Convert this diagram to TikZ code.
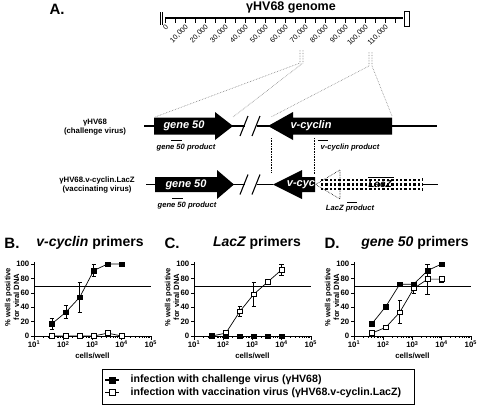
\documentclass[tikz,border=0pt]{standalone}
\usepackage{fontspec}
\setmainfont{Liberation Sans}
\begin{document}
\begin{tikzpicture}[x=1pt,y=-1pt,
  fs/.style={font=\fontsize{#1}{#1}\selectfont},
  bfs/.style={font=\bfseries\fontsize{#1}{#1}\selectfont},
  gtext/.style={font=\bfseries\itshape\fontsize{11}{11}\selectfont, text=white},
  prod/.style={font=\bfseries\itshape\fontsize{7.6}{7.6}\selectfont},
  rowlab/.style={font=\bfseries\fontsize{7.8}{8.8}\selectfont, align=center},
  backbone/.style={line width=1.3pt},
  genline/.style={densely dotted, gray, line width=0.6pt},
  vline/.style={densely dotted, black, line width=0.6pt},
  fsq/.style={draw=black, fill=black, minimum size=4.6pt, inner sep=0pt},
  osq/.style={draw=black, fill=white, minimum size=4.6pt, inner sep=0pt, line width=0.7pt},
  ticklab/.style={font=\bfseries\fontsize{7.8}{7.8}\selectfont},
  dataline/.style={line width=0.7pt},
]
\useasboundingbox (0,0) rectangle (488,405);

% ---------- A: genome ----------
\node[bfs=15] (Alab) at (57,9) {A.};
\node[bfs=12.5] (gtitle) at (291,7) {γHV68 genome};
\draw[line width=2.4pt] (165,18) -- (403,18);
\foreach \i in {0,...,23} \draw[line width=0.5pt] (165+\i*10,18) -- (165+\i*10,23);
\foreach \i/\t in {0/0,1/{10,000},2/{20,000},3/{30,000},4/{40,000},5/{50,000},6/{60,000},7/{70,000},8/{80,000},9/{90,000},10/{100,000},11/{110,000}}
  \node[fs=7.2, rotate=45, anchor=east, inner sep=0.5pt] (tl\i) at (165+\i*20+2.5,25.5) {\t};
\draw[line width=0.5pt] (160,12) -- (160,25) (162.3,12) -- (162.3,25);
\draw[line width=0.6pt] (404,11) rectangle (409,26);

% dotted projection lines
\coordinate (p1a) at (300,50); \coordinate (p1b) at (303,50);
\coordinate (p1c) at (300,63); \coordinate (p1d) at (303,63);
\coordinate (p2a) at (369,52); \coordinate (p2b) at (372,52);
\coordinate (p2c) at (369,66); \coordinate (p2d) at (372,66);
\coordinate (g50l) at (155,117); \coordinate (g50r) at (233,117);
\coordinate (vcl) at (271,117); \coordinate (vcr) at (392,116);
\draw[genline] (p1a) -- (p1c) -- (g50l);
\draw[genline] (p1b) -- (p1d) -- (g50r);
\draw[genline] (p2a) -- (p2c) -- (vcl);
\draw[genline] (p2b) -- (p2d) -- (vcr);

% ---------- row 1 ----------
\node[rowlab] (r1lab) at (95,127) {γHV68\\(challenge virus)};
\draw[backbone] (144,126) -- (245,126) (257,126) -- (437,126);
\draw[line width=1.1pt] (240,136) -- (248,116) (252,136) -- (260,116);
\fill (154,117.5) -- (215,117.5) -- (215,112) -- (233,126) -- (215,140) -- (215,134.5) -- (154,134.5) -- cycle;
\fill (392,117.5) -- (293,117.5) -- (293,112) -- (268,126) -- (293,140) -- (293,134.5) -- (392,134.5) -- cycle;
\node[gtext] (g50a) at (184,126) {gene 50};
\node[gtext] (vca) at (311,126) {v-cyclin};
\draw[line width=0.9pt] (171,140) -- (182,140);
\node[prod] (g50pa) at (186,148) {gene 50 product};
\draw[line width=0.9pt] (318,140) -- (328,140);
\node[prod] (vcpa) at (350,148) {v-cyclin product};

\coordinate (d1t) at (271,138); \coordinate (d1b) at (271,173);
\coordinate (d2t) at (314,138); \coordinate (d2b) at (314,174);
\draw[vline] (d1t) -- (d1b);
\draw[vline] (d2t) -- (d2b);

% ---------- row 2 ----------
\node[rowlab] (r2lab) at (97,185) {γHV68.v-cyclin.LacZ\\(vaccinating virus)};
\draw[backbone] (146,184.5) -- (245,184.5) (257,184.5) -- (273,184.5) (422,184.5) -- (438,184.5);
\draw[line width=1.1pt] (240,194.5) -- (248,174.5) (252,194.5) -- (260,174.5);
\fill (155,177) -- (217,177) -- (217,170) -- (234,184.5) -- (217,199) -- (217,192) -- (155,192) -- cycle;
\fill (315,177) -- (302,177) -- (302,170) -- (273,184.5) -- (302,199) -- (302,192) -- (315,192) -- cycle;
\node[gtext] (g50b) at (186,184.5) {gene 50};
\node[gtext, inner sep=0pt] (vcb) at (301,184.5) {v-cyc};
% LacZ dotted arrow
\draw[densely dotted, line width=0.6pt] (340,170) -- (315.5,184.5) -- (340,199) -- cycle;
\foreach \yy in {180.2,184.5,188.8}
  \foreach \xx in {322,326.4,...,419}
    \fill (\xx-1.2,\yy-1.2) rectangle (\xx+1.2,\yy+1.2);
\draw[densely dashed, line width=0.6pt] (422,178) -- (422,191);
\node[font=\bfseries\itshape\fontsize{10}{10}\selectfont, inner sep=0.5pt] (lacz) at (380,184.5) {LacZ};
\draw[line width=0.5pt] (368,177.5) -- (394,177.5);
\draw[line width=0.9pt] (172,198) -- (183,198);
\node[prod] (g50pb) at (187,206) {gene 50 product};
\draw[line width=0.9pt] (347,202) -- (357,202);
\node[prod] (lpb) at (350,209) {LacZ product};

% ---------- plots ----------
\foreach \xo/\lab/\ttl/\tx in {34/B./{{\itshape v-cyclin} primers}/90, 194/C./{{\itshape LacZ} primers}/257, 354/D./{{\itshape gene 50} primers}/415}{
  \node[bfs=15] at (\xo-22,243) {\lab};
  \node[bfs=14] at (\tx,243) {\ttl};
  % axes
  \draw[line width=0.7pt] (\xo,262) -- (\xo,336) -- (\xo+116.8,336);
  \draw[line width=0.6pt] (\xo,286.6) -- (\xo+116.8,286.6);
  \foreach \v in {0,20,...,100}{
    \draw[line width=0.6pt] (\xo,336-\v*0.72) -- (\xo-3,336-\v*0.72);
    \node[ticklab, anchor=east, inner sep=1pt] at (\xo-3.5,336-\v*0.72) {\v};
  }
  \foreach \d in {0,...,4}{
    \draw[line width=0.6pt] (\xo+\d*29.2,336) -- (\xo+\d*29.2,339.5);
    \pgfmathtruncatemacro{\ex}{\d+1}
    \node[ticklab, anchor=north, inner sep=1pt] at (\xo+\d*29.2,340) {10\textsuperscript{\ex}};
  }
  \foreach \d in {0,...,3}
    \foreach \m in {2,...,9}
      \draw[line width=0.4pt] ({\xo+(\d+log10(\m))*29.2},336) -- ({\xo+(\d+log10(\m))*29.2},338);
  \node[bfs=7.8] at (\xo+58.4,356) {cells/well};
  \node[font=\bfseries\fontsize{7.6}{8.6}\selectfont, rotate=90, align=center] at (\xo-22,297) {\% wells positive\\for viral DNA};
}

% data helpers: x = x0 + (log-1)*29.2 ; y = 336 - v*0.72
\newcommand{\dpt}[3]{({#1+(#2-1)*29.2},{336-#3*0.72})}
\newcommand{\ebar}[4]{%
  \draw[line width=0.6pt] ({#1+(#2-1)*29.2},{336-#3*0.72}) -- ({#1+(#2-1)*29.2},{336-#4*0.72});
  \draw[line width=0.6pt] ({#1+(#2-1)*29.2-2.2},{336-#3*0.72}) -- ({#1+(#2-1)*29.2+2.2},{336-#3*0.72});
  \draw[line width=0.6pt] ({#1+(#2-1)*29.2-2.2},{336-#4*0.72}) -- ({#1+(#2-1)*29.2+2.2},{336-#4*0.72});}

% Panel B
\ebar{34}{1.613}{9}{25}\ebar{34}{2.09}{25}{42}\ebar{34}{2.568}{33}{75}\ebar{34}{3.046}{83}{100}
\ebar{34}{3.523}{1}{7}
\draw[dataline] \dpt{34}{1.613}{0} -- \dpt{34}{2.09}{0} -- \dpt{34}{2.568}{0} -- \dpt{34}{3.046}{0} -- \dpt{34}{3.523}{4} -- \dpt{34}{4}{0};
\foreach \l/\v in {1.613/0,2.09/0,2.568/0,3.046/0,3.523/4,4/0} \node[osq] at \dpt{34}{\l}{\v} {};
\draw[dataline] \dpt{34}{1.613}{17} -- \dpt{34}{2.09}{33} -- \dpt{34}{2.568}{54} -- \dpt{34}{3.046}{91} -- \dpt{34}{3.523}{100} -- \dpt{34}{4}{100};
\foreach \l/\v in {1.613/17,2.09/33,2.568/54,3.046/91,3.523/100,4/100} \node[fsq] at \dpt{34}{\l}{\v} {};

% Panel C
\ebar{194}{2.568}{27}{41}\ebar{194}{3.046}{41}{75}\ebar{194}{4}{84}{100}
\draw[dataline] \dpt{194}{1.613}{0} -- \dpt{194}{2.09}{4} -- \dpt{194}{2.568}{34} -- \dpt{194}{3.046}{58} -- \dpt{194}{3.523}{75} -- \dpt{194}{4}{92};
\foreach \l/\v in {1.613/0,2.09/4,2.568/34,3.046/58,3.523/75,4/92} \node[osq] at \dpt{194}{\l}{\v} {};
\foreach \l in {1.613,2.09,2.568,3.046,3.523,4} \node[fsq] at \dpt{194}{\l}{0} {};

% Panel D
\ebar{354}{3.523}{83}{100}
\ebar{354}{1.613}{1}{7}\ebar{354}{2.09}{9}{15}\ebar{354}{2.568}{17}{50}\ebar{354}{3.046}{60}{72}\ebar{354}{3.523}{58}{100}\ebar{354}{4}{75}{83}
\draw[dataline] \dpt{354}{1.613}{17} -- \dpt{354}{2.09}{41} -- \dpt{354}{2.568}{72} -- \dpt{354}{3.046}{72} -- \dpt{354}{3.523}{91} -- \dpt{354}{4}{100};
\foreach \l/\v in {1.613/17,2.09/41,2.568/72,3.046/72,3.523/91,4/100} \node[fsq] at \dpt{354}{\l}{\v} {};
\draw[dataline] \dpt{354}{1.613}{4} -- \dpt{354}{2.09}{12} -- \dpt{354}{2.568}{33} -- \dpt{354}{3.046}{66} -- \dpt{354}{3.523}{79} -- \dpt{354}{4}{79};
\foreach \l/\v in {1.613/4,2.09/12,2.568/33,3.046/66,3.523/79,4/79} \node[osq] at \dpt{354}{\l}{\v} {};

% ---------- legend ----------
\node[draw, line width=0.8pt, minimum width=312pt, minimum height=35pt, inner sep=0pt] (legbox) at (258,386.5) {};
\draw[line width=1.1pt] (105,380) -- (119,380);
\node[fsq, minimum size=6pt] (lm1) at (112,380) {};
\draw[line width=1.1pt] (105,392.5) -- (119,392.5);
\node[osq, minimum size=6pt] (lm2) at (112,392.5) {};
\node[bfs=10.6, anchor=west, inner sep=0pt] (lt1) at (130.5,380) {infection with challenge virus (γHV68)};
\node[bfs=10.6, anchor=west, inner sep=0pt] (lt2) at (130.5,392.5) {infection with vaccination virus (γHV68.v-cyclin.LacZ)};
\end{tikzpicture}
\end{document}
